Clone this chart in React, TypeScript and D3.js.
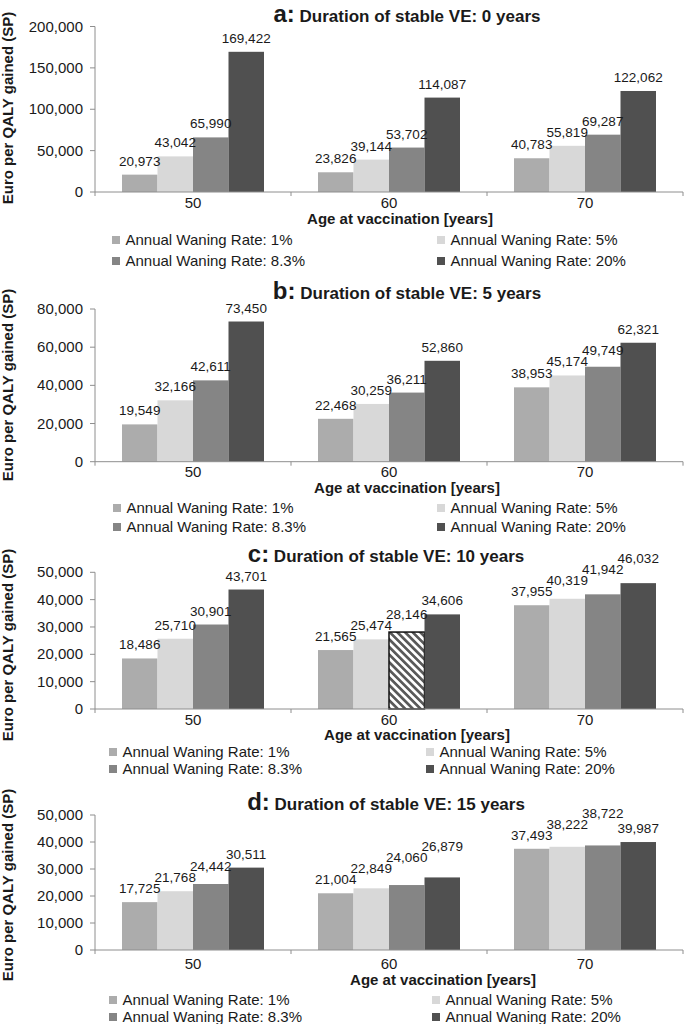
import React from "react";
import * as d3 from "d3";

// ---------- data ----------
const categories = ["50", "60", "70"];
const seriesNames = [
  "Annual Waning Rate: 1%",
  "Annual Waning Rate: 5%",
  "Annual Waning Rate: 8.3%",
  "Annual Waning Rate: 20%",
];
const panelLetters = ["a:", "b:", "c:", "d:"];
const panelTitles = [
  "Duration of stable VE: 0 years",
  "Duration of stable VE: 5 years",
  "Duration of stable VE: 10 years",
  "Duration of stable VE: 15 years",
];
// values[series][category]
const valuesA = [
  [20973, 23826, 40783],
  [43042, 39144, 55819],
  [65990, 53702, 69287],
  [169422, 114087, 122062],
];
const valuesB = [
  [19549, 22468, 38953],
  [32166, 30259, 45174],
  [42611, 36211, 49749],
  [73450, 52860, 62321],
];
const valuesC = [
  [18486, 21565, 37955],
  [25710, 25474, 40319],
  [30901, 28146, 41942],
  [43701, 34606, 46032],
];
const valuesD = [
  [17725, 21004, 37493],
  [21768, 22849, 38222],
  [24442, 24060, 38722],
  [30511, 26879, 39987],
];
const panelValues = [valuesA, valuesB, valuesC, valuesD];
const yMaxes = [200000, 80000, 50000, 50000];
const yTickSteps = [50000, 20000, 10000, 10000];
// hatched bar: panel c, age 60, 8.3%
const hatchedPanel = 2;
const hatchedCategory = "60";
const hatchedSeries = 2;

const yAxisLabel = "Euro per QALY gained (SP)";
const xAxisLabel = "Age at vaccination [years]";

// ---------- styles / layout ----------
const colors = ["#acacac", "#d8d8d8", "#858585", "#505050"];
const FONT = "'Liberation Sans', Arial, Helvetica, sans-serif";
const TXT = "#1a1a1a";
const AXIS = "#8e8e8e";
const W = 685;
const H = 1024;
const plotLeft = 95;
const plotRight = 683;

const layouts = [
  { top: 26.5, bottom: 192, titleY: 22, titleX: 407, tickY: 208, xTitleY: 224, xTitleX: 400, legY: [240, 261], legX: [112, 437], yLabelCY: 108 },
  { top: 309, bottom: 461.7, titleY: 299, titleX: 407, tickY: 477, xTitleY: 493, xTitleX: 407, legY: [508, 527], legX: [113, 437], yLabelCY: 385 },
  { top: 572.3, bottom: 709, titleY: 562, titleX: 386, tickY: 725, xTitleY: 740, xTitleX: 417, legY: [752, 769], legX: [109, 426], yLabelCY: 645 },
  { top: 815, bottom: 950, titleY: 810, titleX: 386, tickY: 969, xTitleY: 985, xTitleX: 443, legY: [1000, 1017], legX: [109, 432], yLabelCY: 885 },
];

const fmt = d3.format(",");

function Panel({ idx }: { idx: number }) {
  const L = layouts[idx];
  const values = panelValues[idx];
  const yMax = yMaxes[idx];
  const step = yTickSteps[idx];

  const x0 = d3.scaleBand<string>().domain(categories).range([plotLeft, plotRight]).padding(0);
  const bw = x0.bandwidth();
  const sidePad = bw * (27 / 196);
  const x1 = d3
    .scaleBand<number>()
    .domain(seriesNames.map((_, i) => i))
    .range([sidePad, bw - sidePad])
    .padding(0);
  const y = d3.scaleLinear().domain([0, yMax]).range([L.bottom, L.top]);
  const ticks = d3.range(0, yMax + 1, step);

  const bars: JSX.Element[] = [];
  const labels: JSX.Element[] = [];
  categories.forEach((cat, ci) => {
    let prevBase: number | null = null;
    seriesNames.forEach((_, si) => {
      const v = values[si][ci];
      const bx = (x0(cat) as number) + (x1(si) as number);
      const by = y(v);
      const hatched = idx === hatchedPanel && cat === hatchedCategory && si === hatchedSeries;
      bars.push(
        <rect
          key={`b${ci}-${si}`}
          x={bx}
          y={by}
          width={x1.bandwidth()}
          height={L.bottom - by}
          fill={hatched ? "url(#hatch)" : colors[si]}
          stroke={hatched ? "#111" : "none"}
          strokeWidth={hatched ? 1.5 : 0}
        />
      );
      let base = by - 9;
      if (prevBase !== null && Math.abs(base - prevBase) < 11) base = prevBase - 11;
      prevBase = base;
      labels.push(
        <text
          key={`l${ci}-${si}`}
          x={bx + x1.bandwidth() / 2}
          y={base}
          textAnchor="middle"
          fontSize={13.5}
          fill={TXT}
        >
          {fmt(v)}
        </text>
      );
    });
  });

  return (
    <g fontFamily={FONT}>
      {/* title */}
      <text x={L.titleX} y={L.titleY} textAnchor="middle" fontWeight="bold" fill={TXT}>
        <tspan fontSize={24}>{panelLetters[idx]}</tspan>
        <tspan fontSize={17}>{" " + panelTitles[idx]}</tspan>
      </text>
      {/* y axis label */}
      <text
        transform={`translate(13,${L.yLabelCY}) rotate(-90)`}
        textAnchor="middle"
        fontWeight="bold"
        fontSize={15}
        fill={TXT}
      >
        {yAxisLabel}
      </text>
      {/* bars */}
      {bars}
      {/* axes */}
      <line x1={plotLeft} x2={plotLeft} y1={L.top} y2={L.bottom} stroke={AXIS} strokeWidth={1} />
      <line x1={plotLeft} x2={plotRight} y1={L.bottom} y2={L.bottom} stroke={AXIS} strokeWidth={1} />
      {ticks.map((t) => (
        <g key={`yt${t}`}>
          <line x1={plotLeft - 5} x2={plotLeft} y1={y(t)} y2={y(t)} stroke={AXIS} strokeWidth={1} />
          <text x={83} y={y(t) + 5} textAnchor="end" fontSize={15} fill={TXT}>
            {fmt(t)}
          </text>
        </g>
      ))}
      {[...categories.map((c) => x0(c) as number), plotRight].map((bx, i) => (
        <line key={`xt${i}`} x1={bx} x2={bx} y1={L.bottom} y2={L.bottom + 4} stroke={AXIS} strokeWidth={1} />
      ))}
      {categories.map((c) => (
        <text key={`xl${c}`} x={(x0(c) as number) + bw / 2} y={L.tickY} textAnchor="middle" fontSize={15} fill={TXT}>
          {c}
        </text>
      ))}
      <text x={L.xTitleX} y={L.xTitleY} textAnchor="middle" fontWeight="bold" fontSize={15} fill={TXT}>
        {xAxisLabel}
      </text>
      {/* value labels */}
      {labels}
      {/* legend */}
      {seriesNames.map((name, si) => {
        const col = si % 2;
        const row = Math.floor(si / 2);
        const lx = L.legX[col];
        const ly = L.legY[row];
        return (
          <g key={`lg${si}`}>
            <rect x={lx} y={ly - 4} width={8} height={8} fill={colors[si]} />
            <text x={lx + 13.5} y={ly + 5.3} fontSize={15} fill={TXT}>
              {name}
            </text>
          </g>
        );
      })}
    </g>
  );
}

export default function App() {
  return (
    <svg
      width={W}
      height={H}
      viewBox={`0 0 ${W} ${H}`}
      style={{ position: "absolute", left: 0, top: 0, background: "#fff" }}
    >
      <defs>
        <pattern id="hatch" patternUnits="userSpaceOnUse" width={5.4} height={5.4} patternTransform="rotate(-45)">
          <rect x={0} y={0} width={5.4} height={5.4} fill="#fff" />
          <rect x={0} y={0} width={2.7} height={5.4} fill="#5a5a5a" />
        </pattern>
      </defs>
      <rect x={0} y={0} width={W} height={H} fill="#fff" />
      {layouts.map((_, i) => (
        <Panel key={i} idx={i} />
      ))}
    </svg>
  );
}
